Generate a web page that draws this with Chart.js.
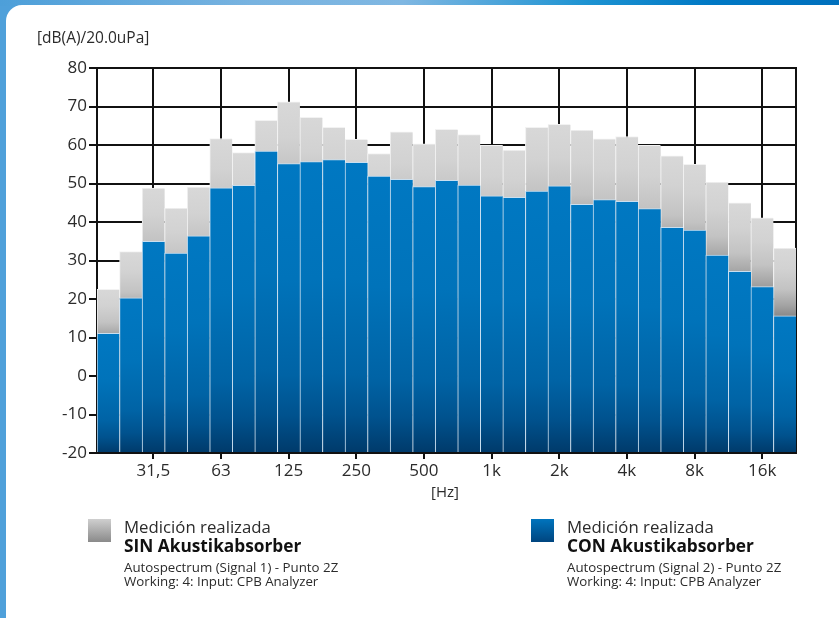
<!DOCTYPE html>
<html lang="es">
<head>
<meta charset="utf-8">
<title>Espectro en tercios de octava</title>
<script src="https://cdn.jsdelivr.net/npm/chart.js@4.4.1/dist/chart.umd.min.js"></script>
<style>
  html, body { margin: 0; padding: 0; }
  body { width: 839px; height: 618px; position: relative; overflow: hidden;
         font-family: "Open Sans", "Noto Sans", sans-serif; color: #2b2b2b;
         background: #4fa0da; }
  .topband { position: absolute; left: 0; top: 0; width: 839px; height: 6px;
             background: linear-gradient(to right, #4d9fd9 0%, #78b3e0 30%, #7fb7e2 48%, #1d93d2 70%, #0078c4 85%, #0070bd 100%); }
  .panel { position: absolute; left: 6px; top: 5px; right: 0; bottom: 0;
           background: #fff; border-top-left-radius: 16px; }
  #chart { position: absolute; left: 0; top: 0; }
  .unit-y { position: absolute; left: 37px; top: 26px; font-size: 15.5px; }
  .unit-x { position: absolute; left: 431px; top: 481px; font-size: 15px; }
  .key { position: absolute; top: 519px; }
  .key .swatch { position: absolute; left: 0; top: 0; width: 23px; height: 23px; }
  .key .txt { position: absolute; left: 36px; top: -1px; white-space: nowrap; }
  .key .l1 { font-size: 16.8px; line-height: 18px; }
  .key .l2 { font-size: 17.3px; font-weight: bold; line-height: 20px; color: #111; }
  .key .l3 { font-size: 13.3px; line-height: 14px; margin-top: 4px; }
  #key-sin { left: 88px; }
  #key-con { left: 531px; }
  #key-sin .swatch { background: linear-gradient(to bottom, #cfcfcf, #8a8a8a); }
  #key-con .swatch { background: linear-gradient(to bottom, #0074bd, #00457f); }
</style>
</head>
<body>
<div class="topband"></div>
<div class="panel"></div>
<canvas id="chart" width="839" height="618"></canvas>
<div class="unit-y">[dB(A)/20.0uPa]</div>
<div class="unit-x">[Hz]</div>
<div class="key" id="key-sin">
  <div class="swatch"></div>
  <div class="txt">
    <div class="l1">Medición realizada</div>
    <div class="l2">SIN Akustikabsorber</div>
    <div class="l3">Autospectrum (Signal 1) - Punto 2Z<br>Working: 4: Input: CPB Analyzer</div>
  </div>
</div>
<div class="key" id="key-con">
  <div class="swatch"></div>
  <div class="txt">
    <div class="l1">Medición realizada</div>
    <div class="l2">CON Akustikabsorber</div>
    <div class="l3">Autospectrum (Signal 2) - Punto 2Z<br>Working: 4: Input: CPB Analyzer</div>
  </div>
</div>
<script>
// bandas de tercio de octava 20 Hz .. 20 kHz
const BANDS = ['20', '25', '31,5', '40', '50', '63', '80', '100', '125', '160',
  '200', '250', '315', '400', '500', '630', '800', '1k', '1,25k', '1,6k',
  '2k', '2,5k', '3,15k', '4k', '5k', '6,3k', '8k', '10k', '12,5k', '16k', '20k'];
// sólo las bandas de octava llevan rótulo y línea de rejilla
const OCTAVE_LABELS = ['31,5', '63', '125', '250', '500', '1k', '2k', '4k', '8k', '16k'];

// nivel medido sin absorbedor, dB(A)
const SIN_VALUES = [22.5, 32.3, 48.8, 43.6, 49.1, 61.7, 58.0, 66.4, 71.2, 67.2,
  64.6, 61.5, 57.8, 63.4, 60.3, 64.1, 62.7, 59.9, 58.7, 64.6,
  65.4, 63.9, 61.6, 62.2, 59.9, 57.2, 55.0, 50.4, 45.0, 41.1, 33.2];
// nivel medido con absorbedor, dB(A)
const CON_VALUES = [11.1, 20.3, 35.0, 31.9, 36.4, 48.9, 49.5, 58.4, 55.2, 55.7,
  56.2, 55.5, 51.9, 51.1, 49.2, 50.8, 49.6, 46.8, 46.4, 48.0,
  49.4, 44.6, 45.8, 45.4, 43.5, 38.6, 37.9, 31.4, 27.2, 23.2, 15.6];

const Y_MIN = -20;
const Y_MAX = 80;
const Y_STEP = 10;

const GRAY_STOPS = [[0, '#d8d8d8'], [0.1, '#d2d2d2'], [0.2, '#c3c3c3'], [0.28, '#a3a3a3'],
  [0.34, '#848484'], [0.5, '#646464'], [1, '#444444']];
const BLUE_STOPS = [[0, '#0078c2'], [0.4, '#0073ba'], [0.73, '#0063a5'], [0.87, '#00528e'], [1, '#003a6a']];

const isOctave = i => OCTAVE_LABELS.includes(BANDS[i]);

// degradado vertical por barra, desde su valor hasta la base del eje
function barGradient(ctx, stops) {
  const chart = ctx.chart;
  const y = chart.scales.y;
  if (!chart.chartArea || !y) return stops[0][1];
  const top = y.getPixelForValue(ctx.raw);
  const bottom = y.getPixelForValue(Y_MIN);
  if (!isFinite(top) || bottom - top < 1) return stops[0][1];
  const g = chart.ctx.createLinearGradient(0, top, 0, bottom);
  stops.forEach(([o, c]) => g.addColorStop(o, c));
  return g;
}

// marco derecho del área de trazado
const frameRight = {
  id: 'frameRight',
  beforeDatasetsDraw(chart) {
    const { ctx, chartArea: a } = chart;
    ctx.save();
    ctx.strokeStyle = '#111';
    ctx.lineWidth = 2;
    ctx.beginPath();
    ctx.moveTo(a.right, a.top - 1);
    ctx.lineTo(a.right, a.bottom + 1);
    ctx.stroke();
    ctx.restore();
  }
};

const tickFont = { family: '"Open Sans", "Noto Sans", sans-serif', size: 17 };

new Chart(document.getElementById('chart'), {
  type: 'bar',
  data: {
    labels: BANDS,
    datasets: [
      {
        label: 'CON Akustikabsorber',
        data: CON_VALUES,
        order: 0,
        base: Y_MIN,
        grouped: false,
        barPercentage: 1,
        categoryPercentage: 1,
        backgroundColor: ctx => barGradient(ctx, BLUE_STOPS),
        borderColor: '#c9dff0',
        borderWidth: { left: 1, top: 1, right: 0, bottom: 0 },
        borderSkipped: false,
      },
      {
        label: 'SIN Akustikabsorber',
        data: SIN_VALUES,
        order: 1,
        base: Y_MIN,
        grouped: false,
        barPercentage: 1,
        categoryPercentage: 1,
        backgroundColor: ctx => barGradient(ctx, GRAY_STOPS),
        borderColor: '#f2f2f2',
        borderWidth: { left: 1, top: 1, right: 0, bottom: 0 },
        borderSkipped: false,
      },
    ],
  },
  options: {
    responsive: false,
    animation: false,
    events: [],
    layout: { padding: { top: 68, right: 43, left: 0, bottom: 0 } },
    plugins: {
      legend: { display: false },
      tooltip: { enabled: false },
    },
    scales: {
      x: {
        offset: true,
        afterFit: s => { s.height = 165; },
        border: { color: '#111', width: 2 },
        grid: {
          offset: false,
          lineWidth: 2,
          color: c => isOctave(c.index) ? '#111' : 'rgba(0,0,0,0)',
          tickColor: c => isOctave(c.index) ? '#111' : 'rgba(0,0,0,0)',
          tickLength: 6,
        },
        ticks: {
          autoSkip: false,
          maxRotation: 0,
          padding: 2,
          color: '#2b2b2b',
          font: tickFont,
          callback: (v, i) => isOctave(i) ? BANDS[i] : '',
        },
      },
      y: {
        min: Y_MIN,
        max: Y_MAX,
        afterFit: s => { s.width = 97; },
        border: { color: '#111', width: 2 },
        grid: { color: '#111', lineWidth: 2, tickLength: 8 },
        ticks: {
          stepSize: Y_STEP,
          padding: 2,
          color: '#2b2b2b',
          font: tickFont,
        },
      },
    },
  },
  plugins: [frameRight],
});
</script>
</body>
</html>
